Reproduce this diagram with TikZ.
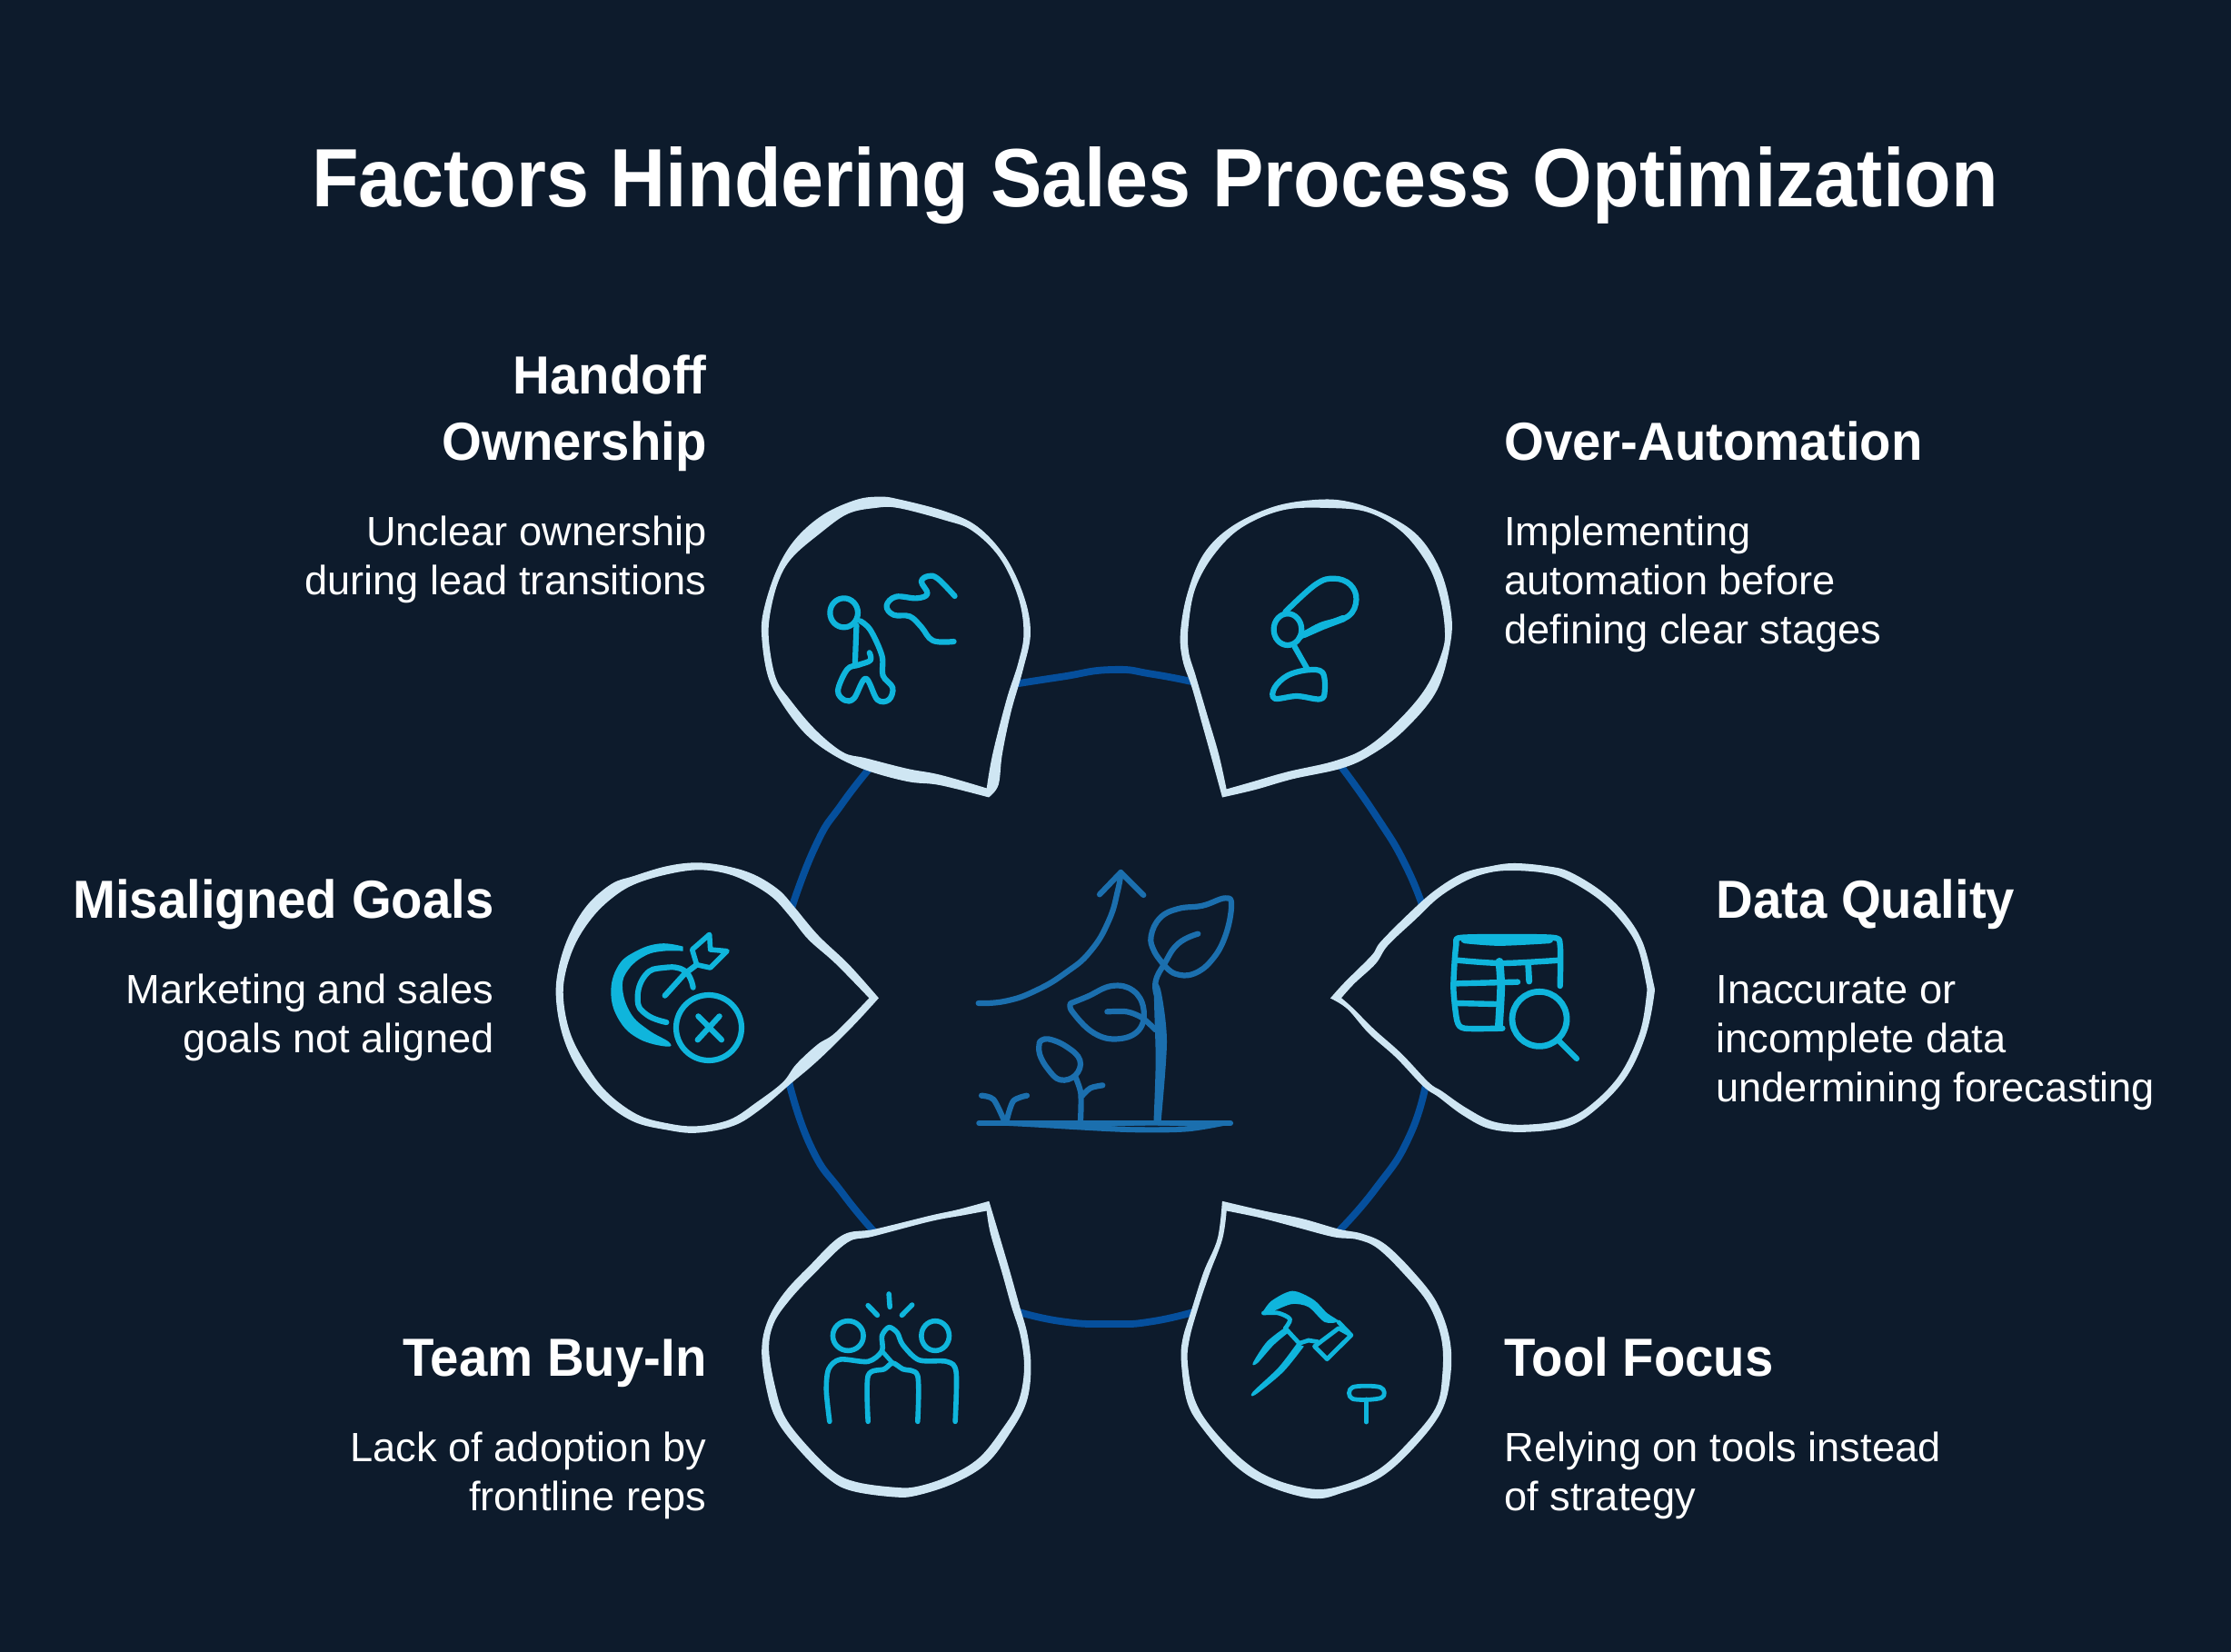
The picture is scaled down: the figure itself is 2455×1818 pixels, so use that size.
\documentclass[tikz,border=0pt]{standalone}
\usepackage{fontspec}
\setmainfont{Liberation Sans}
\newfontfamily\titlef[FakeStretch=0.929]{Liberation Sans}
\newfontfamily\headf[FakeStretch=0.955]{Liberation Sans}
\newfontfamily\bodyf[FakeStretch=1.005]{Liberation Sans}
\definecolor{bgc}{HTML}{0D1B2C}
\definecolor{pinc}{HTML}{CFE6F3}
\definecolor{iconc}{HTML}{0FB5DC}
\definecolor{arcc}{HTML}{054F9C}
\definecolor{plantc}{HTML}{1B6FAE}
\tikzset{
  wide/.style={x=0.2551pt,y=-0.16667pt},
  tri/.style={x=0.16667pt,y=-0.16667pt},
  ic/.style={draw=iconc,line width=3.1pt,line cap=round,line join=round},
  icthin/.style={draw=iconc,line width=2.8pt,line cap=round,line join=round},
  icf/.style={fill=iconc},
  pl/.style={draw=plantc,line width=3.1pt,line cap=round,line join=round},
  plf/.style={fill=plantc},
  arcline/.style={draw=arcc,line width=3.9pt},
  titletext/.style={anchor=base,text=white,inner sep=0pt,font=\titlef\bfseries\fontsize{45.5}{52}\selectfont},
  headr/.style={anchor=base east,text=white,inner sep=0pt,align=right,font=\headf\bfseries\fontsize{29.5}{36}\selectfont},
  headl/.style={anchor=base west,text=white,inner sep=0pt,align=left,font=\headf\bfseries\fontsize{29.5}{36}\selectfont},
  bodyr/.style={anchor=base east,text=white,inner sep=0pt,align=right,font=\bodyf\fontsize{22.5}{27}\selectfont},
  bodyl/.style={anchor=base west,text=white,inner sep=0pt,align=left,font=\bodyf\fontsize{22.5}{27}\selectfont},
}
\newcommand\pinshape[2]{%
  \fill[bgc] plot[smooth,tension=.6] coordinates {#1} -- cycle;
  \filldraw[pinc,line width=.7pt,line join=miter,miter limit=3,even odd rule] plot[smooth,tension=.6] coordinates {#1} -- cycle
     plot[smooth,tension=.6] coordinates {#2} -- cycle;
}
\begin{document}
\begin{tikzpicture}[x=0.5pt,y=-0.5pt]
\fill[bgc] (0,0) rectangle (2455,1818);
\useasboundingbox (0,0) rectangle (2455,1818);

% connecting ring
\coordinate (a1) at (965,836); \coordinate (a2) at (866,1015);
\coordinate (a3) at (866,1182); \coordinate (a4) at (966,1360);
\coordinate (a5) at (1470,836); \coordinate (a6) at (1571,1015);
\coordinate (a7) at (1571,1182); \coordinate (a8) at (1468,1360);
\coordinate (a9) at (1115,753); \coordinate (a10) at (1320,752);
\coordinate (a11) at (1115,1442); \coordinate (a12) at (1320,1442);
\draw[arcline] plot[smooth,tension=.9] coordinates {(a1) (927,884) (896,934) (a2)};
\draw[arcline] plot[smooth,tension=.9] coordinates {(a3) (891,1259) (927,1313) (a4)};
\draw[arcline] plot[smooth,tension=.9] coordinates {(a5) (1513,896) (1549,957) (a6)};
\draw[arcline] plot[smooth,tension=.9] coordinates {(a7) (1552,1248) (1513,1309) (a8)};
\draw[arcline] plot[smooth,tension=.9] coordinates {(a9) (1167,745) (1223,737) (1269,742) (a10)};
\draw[arcline] plot[smooth,tension=.9] coordinates {(a11) (1167,1454) (1223,1457) (1269,1454) (a12)};

% pin 1 + pin 2 and icons
\begin{scope}[shift={(820,530)},wide]
\pinshape{(525,1040) (545,1000) (553,900) (572,760) (598,620) (614,500) (600,380) (560,250) (500,150) (430,100) (330,60) (290,52) (240,62) (170,110) (110,190) (70,290) (42,420) (37,510) (50,640) (80,730) (130,830) (190,900) (260,950) (350,988) (420,1000) (525,1040)}
{(522,1015) (535,900) (565,720) (590,600) (602,500) (590,380) (550,250) (490,160) (430,125) (330,85) (280,85) (220,105) (160,170) (100,250) (70,330) (52,440) (50,530) (65,650) (95,720) (150,820) (210,895) (260,915) (350,950) (420,970) (522,1015)}
\pinshape{(1030,1040) (1005,900) (985,790) (965,680) (945,590) (940,500) (955,370) (990,240) (1050,150) (1140,85) (1230,62) (1300,68) (1380,110) (1450,180) (1497,290) (1520,420) (1520,530) (1490,690) (1420,820) (1350,900) (1285,945) (1180,980) (1100,1015) (1030,1040)}
{(1037,1018) (1020,900) (995,770) (970,640) (955,560) (955,470) (970,350) (1010,240) (1070,150) (1160,92) (1260,85) (1345,100) (1418,165) (1472,270) (1498,370) (1510,480) (1505,560) (1470,680) (1410,790) (1340,880) (1270,925) (1170,960) (1090,995) (1037,1018)}
% walker
\draw[ic] (213,433) ellipse [x radius=30,y radius=48];
\draw[ic] plot[smooth,tension=.6] coordinates {(248,460) (270,490) (295,575) (297,640) (318,680) (310,720) (285,720) (260,650) (235,715) (215,722) (200,690) (220,620) (245,605) (270,590) (268,565)};
\draw[ic] (240,475) -- (237,598);
\draw[ic] plot[smooth,tension=.65] coordinates {(452,378) (415,320) (395,312) (380,330) (393,370) (370,385) (325,380) (305,410) (320,440) (355,445) (380,480) (405,525) (450,528)};
% robot arm
\draw[ic] plot[smooth,tension=.65] coordinates {(1165,430) (1230,340) (1270,320) (1305,340) (1318,390) (1300,445) (1240,475) (1195,515)};
\draw[ic,line width=3.8pt] (1205,505) -- (1245,478) -- (1290,452);
\draw[ic] (1170,488) ellipse [x radius=30,y radius=52];
\draw[ic] (1185,545) -- (1213,620);
\draw[ic] plot[smooth cycle,tension=.6] coordinates {(1142,716) (1142,680) (1170,640) (1213,622) (1245,630) (1250,690) (1240,718) (1190,708)};
\end{scope}

% pin 3
\begin{scope}[shift={(600,930)},tri]
\pinshape{(1098,505) (1000,395) (900,300) (820,205) (770,150) (690,100) (600,72) (500,60) (400,72) (290,105) (220,130) (140,200) (80,300) (45,410) (38,510) (60,630) (110,740) (190,840) (290,910) (400,938) (500,948) (620,925) (710,870) (810,785) (870,735) (930,680) (1020,590) (1098,505)}
{(1072,505) (960,390) (870,310) (810,235) (750,170) (670,120) (590,90) (500,80) (400,95) (300,125) (230,165) (160,230) (100,320) (65,420) (58,510) (80,620) (130,720) (200,815) (300,890) (400,920) (500,930) (610,908) (700,850) (785,785) (830,725) (900,660) (960,620) (1072,505)}
\fill[icf] plot[smooth,tension=.7] coordinates {(455,335) (380,325) (300,350) (240,400) (217,490) (245,580) (310,640) (400,665) (408,650) (340,610) (282,555) (255,470) (275,410) (330,365) (390,350) (455,350)} -- cycle;
\draw[ic] plot[smooth,tension=.8] coordinates {(488,470) (460,415) (390,405) (330,430) (305,510) (335,560) (400,585)};
\draw[ic] (395,497) -- (460,425) -- (500,395);
\draw[ic,line width=2.8pt] (500,395) -- (485,345) -- (542,295) -- (545,345) -- (600,350) -- (545,405) -- cycle;
\draw[ic] (540,603) circle [x radius=108,y radius=108];
\draw[ic] (505,565) -- (582,643) (575,565) -- (503,643);
\end{scope}

% pin 4
\begin{scope}[shift={(1440,930)},tri]
\pinshape{(75,505) (120,455) (210,365) (240,320) (340,220) (420,150) (510,95) (600,72) (680,62) (790,72) (860,90) (960,150) (1040,225) (1100,320) (1135,450) (1138,500) (1110,630) (1050,760) (960,860) (860,925) (720,945) (600,935) (510,890) (430,830) (380,795) (290,700) (200,620) (130,540) (75,505)}
{(105,505) (150,455) (220,390) (260,330) (350,245) (430,170) (520,115) (600,88) (680,82) (780,90) (850,110) (950,170) (1025,240) (1085,330) (1115,450) (1117,500) (1095,620) (1035,750) (950,845) (855,905) (720,925) (610,915) (520,870) (440,815) (395,785) (305,690) (215,610) (145,540) (105,505)}
\draw[ic,line width=3.2pt] plot[smooth,tension=.4] coordinates {(830,465) (830,330) (800,305) (510,305) (487,330) (478,470) (490,580) (515,605) (640,605)};
\draw[ic,line width=4.2pt] plot[smooth] coordinates {(515,312) (630,320) (795,312)};
\draw[ic,line width=3.2pt] plot[smooth] coordinates {(490,380) (640,390) (830,380)};
\draw[ic,line width=4.4pt] plot[smooth] coordinates {(630,385) (635,470) (628,600)};
\draw[ic,line width=3.4pt] (725,395) -- (728,450);
\draw[ic,line width=3.2pt] (490,457) -- (690,452);
\draw[ic,line width=3.2pt] (490,522) -- (620,525);
\draw[ic,line width=3.4pt] (762,574) ellipse [x radius=90,y radius=90];
\draw[ic] (825,645) -- (885,705);
\end{scope}

% centre plant
\begin{scope}[shift={(1040,950)},tri]
\draw[pl] plot[smooth,tension=.8] coordinates {(110,462) (200,455) (300,420) (400,360) (480,290) (540,190) (570,90) (580,30)};
\draw[pl] (510,103) -- (580,30) -- (655,105);
\draw[pl] plot[smooth,tension=.7] coordinates {(722,335) (690,290) (680,240) (710,180) (770,150) (850,140) (925,115) (945,140) (925,240) (880,320) (820,365) (760,365) (722,335)};
\draw[pl] plot[smooth,tension=.8] coordinates {(835,233) (770,265) (725,330) (695,390) (700,440)};
\fill[plf] plot[smooth] coordinates {(688,860) (695,650) (690,410) (712,420) (732,590) (712,860)} -- cycle;
\draw[pl] plot[smooth,tension=.7] coordinates {(415,462) (470,440) (550,405) (620,420) (655,480) (640,550) (570,580) (490,560) (420,490) (415,462)};
\draw[pl] plot[smooth] coordinates {(535,490) (600,490) (650,510) (695,550)};
\draw[pl] plot[smooth,tension=.7] coordinates {(312,590) (340,580) (400,605) (445,650) (430,700) (380,715) (340,680) (312,630) (312,590)};
\draw[pl] plot[smooth] coordinates {(430,705) (448,760) (447,850)};
\draw[pl] plot[smooth] coordinates {(452,768) (480,742) (520,733)};
\draw[pl] plot[smooth] coordinates {(120,767) (160,780) (195,850)};
\draw[pl] plot[smooth] coordinates {(270,767) (225,785) (203,850)};
\draw[pl] (112,858) -- (942,858);
\fill[plf] plot[smooth] coordinates {(112,862) (270,870) (600,888) (800,886) (942,862)} -- (942,852) -- (112,852) -- cycle;
\fill[bgc] plot[smooth] coordinates {(550,869) (680,866) (800,869) (680,871)} -- cycle;
\end{scope}

% pin 5 + pin 6 and icons
\begin{scope}[shift={(820,1330)},wide]
\pinshape{(525,-22) (545,80) (570,210) (590,320) (608,420) (615,530) (605,640) (570,740) (520,840) (450,905) (370,945) (320,950) (230,930) (180,890) (120,800) (70,700) (48,600) (37,470) (50,370) (85,280) (140,190) (210,90) (280,70) (400,25) (460,5) (525,-22)}
{(522,5) (530,80) (555,210) (575,320) (595,420) (603,530) (590,640) (555,730) (505,825) (440,885) (370,920) (320,922) (240,905) (190,870) (130,780) (85,690) (65,600) (50,470) (60,380) (95,300) (150,210) (220,110) (275,90) (400,40) (470,20) (522,5)}
\pinshape{(1030,-22) (1020,100) (990,210) (965,330) (945,430) (942,510) (955,640) (990,730) (1060,850) (1130,915) (1225,955) (1290,935) (1370,885) (1440,790) (1500,670) (1520,550) (1518,430) (1490,310) (1440,210) (1380,120) (1330,85) (1280,70) (1200,35) (1120,10) (1030,-22)}
{(1037,5) (1028,100) (1000,215) (975,330) (957,430) (953,510) (968,630) (1005,725) (1075,835) (1140,895) (1225,928) (1290,915) (1365,865) (1430,775) (1490,660) (1505,550) (1503,430) (1475,315) (1425,220) (1365,130) (1320,100) (1270,92) (1190,60) (1110,28) (1037,5)}
% high five
\draw[icthin] (222,420) ellipse [x radius=33,y radius=49];
\draw[icthin] (410,420) ellipse [x radius=30,y radius=49];
\draw[icthin] (310,282) -- (312,325) (265,320) -- (285,352) (360,318) -- (338,352);
\draw[icthin] plot[smooth,tension=.5] coordinates {(182,703) (175,600) (180,530) (205,498) (265,505) (295,470) (295,420) (310,392) (328,410) (340,450) (375,500) (435,505) (455,540) (453,703)};
\draw[icthin] plot[smooth,tension=.5] coordinates {(265,703) (265,552) (300,530) (318,510) (340,530) (372,552) (372,703)};
\draw[icthin,line width=2.4pt] (295,470) -- (318,510);
% hammer
\fill[icf] plot[smooth,tension=.5] coordinates {(1115,345) (1135,305) (1180,272) (1225,300) (1255,345) (1280,372) (1250,375) (1215,325) (1180,315) (1145,335)} -- cycle;
\draw[icthin,line width=2.4pt] (1280,375) -- (1307,418) -- (1255,497) -- (1228,455) -- (1280,395) -- (1307,418);
\draw[icthin,line width=2.4pt] plot[smooth] coordinates {(1118,345) (1150,345) (1175,365) (1165,395)};
\draw[icthin,line width=2.4pt] (1165,395) -- (1195,445) -- (1215,435) -- (1235,440);
\fill[icf] plot[smooth] coordinates {(1165,392) (1125,440) (1095,510) (1105,510) (1140,450) (1175,405)} -- cycle;
\fill[icf] plot[smooth] coordinates {(1190,445) (1150,525) (1095,605) (1100,615) (1160,540) (1205,455)} -- cycle;
\draw[icthin,line width=2.4pt] plot[smooth cycle,tension=.6] coordinates {(1310,590) (1370,590) (1372,625) (1310,628)};
\draw[icthin,line width=2.4pt] (1340,630) -- (1340,705);
\end{scope}

% texts
\node[titletext] (title) at (1271,228) {Factors Hindering Sales Process Optimization};
\node[headr] (h1) at (778,506) {Handoff\\Ownership};
\node[bodyr] (b1) at (778,654) {Unclear ownership\\during lead transitions};
\node[headl] (h2) at (1655,506) {Over-Automation};
\node[bodyl] (b2) at (1655,708) {Implementing\\automation before\\defining clear stages};
\node[headr] (h3) at (544,1010) {Misaligned Goals};
\node[bodyr] (b3) at (544,1158) {Marketing and sales\\goals not aligned};
\node[headl] (h4) at (1888,1010) {Data Quality};
\node[bodyl] (b4) at (1888,1212) {Inaccurate or\\incomplete data\\undermining forecasting};
\node[headr] (h5) at (778,1514) {Team Buy-In};
\node[bodyr] (b5) at (778,1662) {Lack of adoption by\\frontline reps};
\node[headl] (h6) at (1655,1514) {Tool Focus};
\node[bodyl] (b6) at (1655,1662) {Relying on tools instead\\of strategy};
\end{tikzpicture}
\end{document}
